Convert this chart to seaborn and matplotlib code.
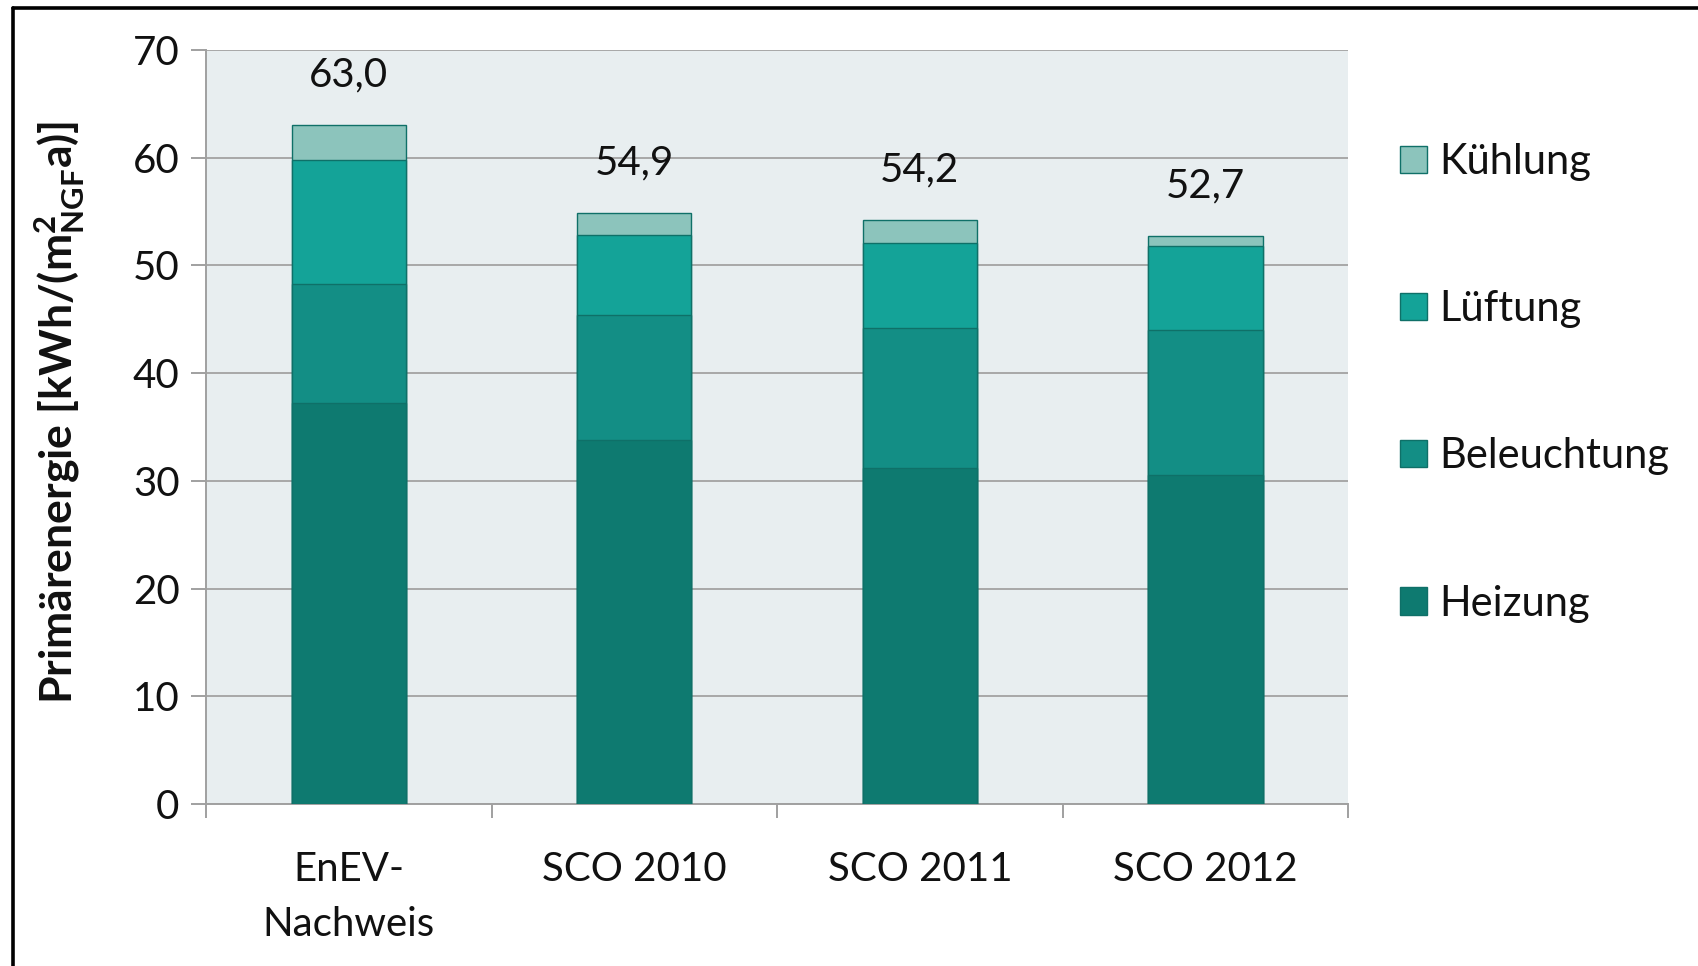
import matplotlib
matplotlib.use("Agg")
import matplotlib.pyplot as plt
import numpy as np
import pandas as pd
import seaborn as sns
from matplotlib.patches import Patch
from matplotlib.lines import Line2D
from matplotlib.ticker import FixedLocator

# data
kategorien = ["EnEV-\nNachweis", "SCO 2010", "SCO 2011", "SCO 2012"]
heizung = [37.2, 33.8, 31.2, 30.5]
beleuchtung = [11.1, 11.6, 13.0, 13.5]
lueftung = [11.5, 7.4, 7.9, 7.8]
kuehlung = [3.2, 2.1, 2.1, 0.9]
summen = ["63,0", "54,9", "54,2", "52,7"]

farben = {"Heizung": "#0e7a70", "Beleuchtung": "#138e85",
          "Lüftung": "#14a398", "Kühlung": "#8cc4bc"}

df = pd.DataFrame({"kategorie": kategorien, "Heizung": heizung,
                   "Beleuchtung": beleuchtung, "Lüftung": lueftung,
                   "Kühlung": kuehlung})
reihen = ["Heizung", "Beleuchtung", "Lüftung", "Kühlung"]
kum = df[reihen].cumsum(axis=1)

sns.set_theme(style="white")
plt.rcParams["font.family"] = ["Lato", "DejaVu Sans"]
plt.rcParams["mathtext.fontset"] = "custom"
plt.rcParams["mathtext.rm"] = "Lato"
plt.rcParams["mathtext.bf"] = "Lato:bold"

fig = plt.figure(figsize=(16.98, 9.66), dpi=100)
ax = fig.add_axes([0.1213, 0.1677, 0.6727, 0.7805])
ax.set_facecolor("#e8eef0")

# stacked bars: draw cumulative totals from top layer down
for r in reversed(reihen):
    sns.barplot(x=df["kategorie"], y=kum[r], color=farben[r], width=0.4,
                edgecolor="#0f7068", linewidth=1.0, saturation=1, ax=ax, zorder=3)

ax.set_ylim(0, 70)
ax.set_xlim(-0.5, 3.5)
ax.set_yticks(np.arange(0, 71, 10))
ax.yaxis.grid(True, color="#a8a8a8", linewidth=1.4, zorder=0)
ax.set_axisbelow(True)

# x ticks at the category borders, labels at the centres
ax.xaxis.set_major_locator(FixedLocator([-0.5, 0.5, 1.5, 2.5, 3.5]))
ax.xaxis.set_minor_locator(FixedLocator([0, 1, 2, 3]))
ax.set_xticklabels([], minor=False)
ax.set_xticklabels(kategorien, minor=True, linespacing=1.6)
ax.tick_params(axis="x", which="major", length=10, width=1.4, color="#a0a0a0",
               direction="out", bottom=True)
ax.tick_params(axis="x", which="minor", length=0, pad=34, labelsize=29,
               labelcolor="#111111")
ax.tick_params(axis="y", length=11, width=1.4, color="#a0a0a0", direction="out",
               left=True, labelsize=29, pad=8, labelcolor="#111111")

for s in ["top", "right"]:
    ax.spines[s].set_visible(False)
for s in ["left", "bottom"]:
    ax.spines[s].set_color("#a0a0a0")
    ax.spines[s].set_linewidth(1.4)

ax.set_xlabel("")
ax.set_ylabel(r"Primärenergie [kWh/(m$\mathbf{^2_{NGF}}$a)]", fontsize=32,
              fontweight="bold", color="#111111")
ax.yaxis.set_label_coords(-0.104, 0.52)

gesamt = kum["Kühlung"].values
for i, (t, s) in enumerate(zip(gesamt, summen)):
    ax.annotate(s, (i, t), xytext=(0, 36), textcoords="offset points",
                ha="center", va="center", fontsize=29, color="#111111")

handles = [Patch(facecolor=farben[r], edgecolor="#0f7068", linewidth=1.0)
           for r in reversed(reihen)]
fig.legend(handles, list(reversed(reihen)), loc="upper left",
           bbox_to_anchor=(0.8125, 0.8735), frameon=False, fontsize=30,
           handlelength=0.63, handleheight=0.63, handletextpad=0.3,
           labelspacing=2.62, borderpad=0, labelcolor="#111111")

# black frame of the original picture (top and left edge)
fig.add_artist(Line2D([13.5 / 1698, 1], [1 - 8 / 966, 1 - 8 / 966],
                      transform=fig.transFigure, color="black", linewidth=2.6))
fig.add_artist(Line2D([13.5 / 1698, 13.5 / 1698], [0, 1 - 8 / 966],
                      transform=fig.transFigure, color="black", linewidth=2.6))

fig.savefig("out.png", dpi=100, facecolor="white")
